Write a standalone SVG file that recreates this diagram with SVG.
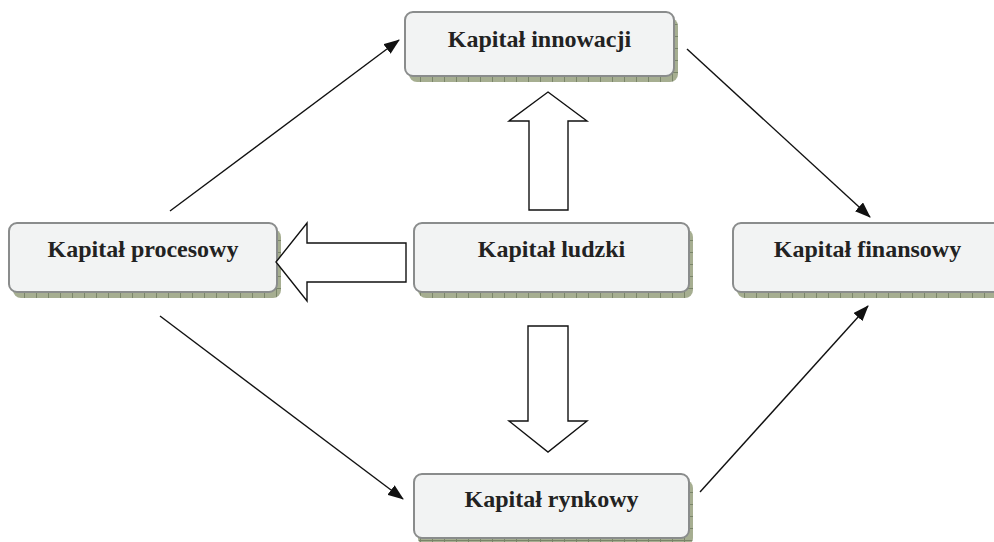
<svg xmlns="http://www.w3.org/2000/svg" width="994" height="542" viewBox="0 0 994 542">
<defs>
<pattern id="hatch" patternUnits="userSpaceOnUse" width="12" height="12">
<rect width="12" height="12" fill="#a6ae91"/>
<path d="M0.5 0V12M0 0.5H12" stroke="#7a8569" stroke-width="1"/>
</pattern>
<marker id="ah" viewBox="0 0 16 12" refX="15" refY="6" markerWidth="16" markerHeight="12" markerUnits="userSpaceOnUse" orient="auto">
<path d="M0 0L16 6L0 12Z" fill="#111"/>
</marker>
<style>
.shadow{fill:url(#hatch);}
.box{fill:#f2f3f3;stroke:#8a8c8c;stroke-width:2;}
.lbl{font-family:"Liberation Serif","Times New Roman",serif;font-weight:bold;font-size:24px;fill:#222;text-anchor:middle;}
.conn{stroke:#111;stroke-width:1.4;fill:none;marker-end:url(#ah);}
.big{fill:#fff;stroke:#111;stroke-width:1.4;}
</style>
</defs>
<rect width="994" height="542" fill="#fff"/>
<g id="innowacji">
<rect class="shadow" x="409" y="18" width="269" height="64" rx="8"/>
<rect class="box" x="405" y="12" width="269" height="64" rx="8"/>
<text class="lbl" x="539.5" y="47">Kapitał innowacji</text>
</g>
<g id="procesowy">
<rect class="shadow" x="13" y="229" width="268" height="69" rx="8"/>
<rect class="box" x="9" y="223" width="268" height="69" rx="8"/>
<text class="lbl" x="143" y="257">Kapitał procesowy</text>
</g>
<g id="ludzki">
<rect class="shadow" x="418" y="229" width="275" height="69" rx="8"/>
<rect class="box" x="414" y="223" width="275" height="69" rx="8"/>
<text class="lbl" x="551.5" y="257">Kapitał ludzki</text>
</g>
<g id="finansowy">
<rect class="shadow" x="737" y="229" width="268" height="69" rx="8"/>
<rect class="box" x="733" y="223" width="268" height="69" rx="8"/>
<text class="lbl" x="867.5" y="257">Kapitał finansowy</text>
</g>
<g id="rynkowy">
<rect class="shadow" x="418" y="480" width="275" height="66" rx="8"/>
<rect class="box" x="414" y="474" width="275" height="64" rx="8"/>
<text class="lbl" x="551.5" y="507">Kapitał rynkowy</text>
</g>
<g id="connectors">
<path class="big" d="M548 92L587 121H568V210H529V121H509Z"/>
<path class="big" d="M276 262L307 223V243H406V282H307V301Z"/>
<path class="big" d="M528 326H568V421H587L548 452L509 421H528Z"/>
<line class="conn" x1="170" y1="211" x2="399" y2="40"/>
<line class="conn" x1="687" y1="49" x2="870" y2="217"/>
<line class="conn" x1="160" y1="316" x2="403" y2="499"/>
<line class="conn" x1="700" y1="492" x2="868" y2="306"/>
</g>
</svg>
